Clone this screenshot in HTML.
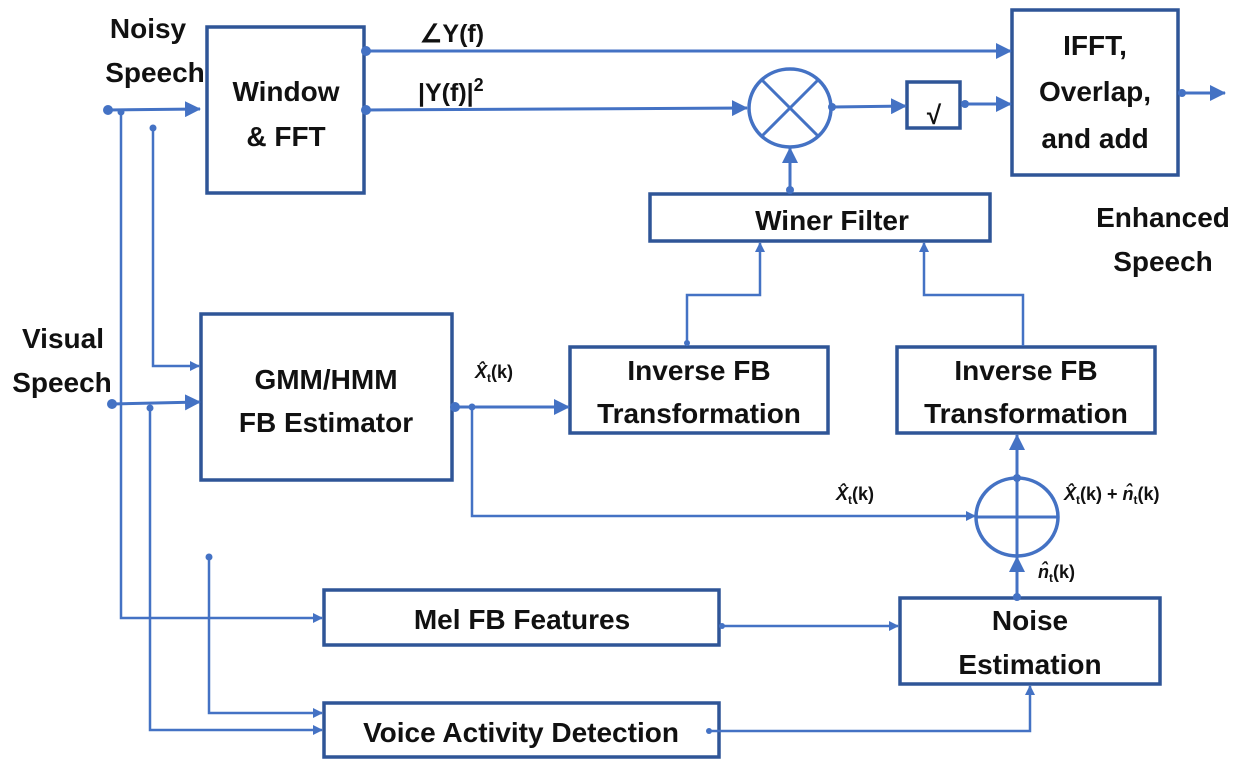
<!DOCTYPE html>
<html><head><meta charset="utf-8"><style>
html,body{margin:0;padding:0;background:#fff;}
svg{display:block;}
text{font-family:"Liberation Sans",sans-serif;font-weight:bold;fill:#111;}
</style></head><body>
<svg width="1250" height="771" viewBox="0 0 1250 771" xmlns="http://www.w3.org/2000/svg">
<defs>
<marker id="a" markerWidth="10" markerHeight="10" refX="9" refY="5" orient="auto" markerUnits="userSpaceOnUse" viewBox="0 0 10 10"><path d="M0,0 L10,5 L0,10 z" fill="#4472C4"/></marker>
<marker id="b" markerWidth="16" markerHeight="16" refX="15" refY="8" orient="auto" markerUnits="userSpaceOnUse" viewBox="0 0 16 16"><path d="M0,0 L16,8 L0,16 z" fill="#4472C4"/></marker>
</defs>
<g fill="none" stroke="#2F5597" stroke-width="3.5">
<rect x="207" y="27" width="157" height="166"/>
<rect x="201" y="314" width="251" height="166"/>
<rect x="570" y="347" width="258" height="86"/>
<rect x="897" y="347" width="258" height="86"/>
<rect x="650" y="194" width="340" height="47"/>
<rect x="1012" y="10" width="166" height="165"/>
<rect x="907" y="82" width="53" height="46"/>
<rect x="324" y="590" width="395" height="55"/>
<rect x="324" y="703" width="395" height="54"/>
<rect x="900" y="598" width="260" height="86"/>
</g>
<g fill="none" stroke="#4472C4" stroke-width="2.5">
<line x1="108" y1="110" x2="200" y2="109" stroke-width="3" marker-end="url(#b)"/>
<polyline points="121,112 121,618 322,618" marker-end="url(#a)"/>
<polyline points="153,128 153,366 199,366" marker-end="url(#a)"/>
<line x1="112" y1="404" x2="200" y2="402" stroke-width="3" marker-end="url(#b)"/>
<polyline points="150,408 150,730 322,730" marker-end="url(#a)"/>
<polyline points="209,557 209,713 322,713" marker-end="url(#a)"/>
<line x1="366" y1="51" x2="1011" y2="51" stroke-width="3" marker-end="url(#b)"/>
<line x1="366" y1="110" x2="747" y2="108" stroke-width="3" marker-end="url(#b)"/>
<ellipse cx="790" cy="108" rx="41" ry="39" stroke-width="3.5"/>
<line x1="762" y1="80" x2="818" y2="136" stroke-width="3"/>
<line x1="818" y1="80" x2="762" y2="136" stroke-width="3"/>
<line x1="832" y1="107" x2="906" y2="106" stroke-width="3" marker-end="url(#b)"/>
<line x1="964" y1="104" x2="1011" y2="104" stroke-width="3" marker-end="url(#b)"/>
<line x1="1182" y1="93" x2="1225" y2="93" stroke-width="3" marker-end="url(#b)"/>
<line x1="790" y1="190" x2="790" y2="148" stroke-width="3" marker-end="url(#b)"/>
<polyline points="687,346 687,295 760,295 760,243" marker-end="url(#a)"/>
<polyline points="1023,346 1023,295 924,295 924,243" marker-end="url(#a)"/>
<line x1="455" y1="407" x2="569" y2="407" stroke-width="3" marker-end="url(#b)"/>
<polyline points="472,407 472,516 975,516" marker-end="url(#a)"/>
<ellipse cx="1017" cy="517" rx="41" ry="39" stroke-width="3.5"/>
<line x1="976" y1="517" x2="1058" y2="517" stroke-width="3"/>
<line x1="1017" y1="597" x2="1017" y2="557" stroke-width="3" marker-end="url(#b)"/>
<line x1="1017" y1="478" x2="1017" y2="435" stroke-width="3" marker-end="url(#b)"/>
<line x1="1017" y1="478" x2="1017" y2="556" stroke-width="3"/>
<line x1="722" y1="626" x2="898" y2="626" marker-end="url(#a)"/>
<polyline points="709,731 1030,731 1030,686" marker-end="url(#a)"/>
</g>
<g fill="#4472C4">
<circle cx="108" cy="110" r="5"/><circle cx="121" cy="112" r="3.5"/><circle cx="153" cy="128" r="3.5"/>
<circle cx="112" cy="404" r="5"/><circle cx="150" cy="408" r="3.5"/><circle cx="209" cy="557" r="3.5"/>
<circle cx="366" cy="51" r="5"/><circle cx="366" cy="110" r="5"/><circle cx="832" cy="107" r="4"/>
<circle cx="965" cy="104" r="4"/><circle cx="1182" cy="93" r="4"/><circle cx="790" cy="190" r="4"/>
<circle cx="687" cy="343" r="3"/><circle cx="455" cy="407" r="5"/><circle cx="472" cy="407" r="3.5"/>
<circle cx="1017" cy="597" r="4"/><circle cx="1017" cy="478" r="4"/><circle cx="722" cy="626" r="3"/><circle cx="709" cy="731" r="3"/>
</g>
<g font-size="28" text-anchor="middle">
<text x="148" y="38">Noisy</text>
<text x="155" y="82">Speech</text>
<text x="63" y="348">Visual</text>
<text x="62" y="392">Speech</text>
<text x="286" y="101">Window</text>
<text x="286" y="146">&amp; FFT</text>
<text x="326" y="389">GMM/HMM</text>
<text x="326" y="432">FB Estimator</text>
<text x="699" y="380">Inverse FB</text>
<text x="699" y="423">Transformation</text>
<text x="1026" y="380">Inverse FB</text>
<text x="1026" y="423">Transformation</text>
<text x="832" y="230">Winer Filter</text>
<text x="1095" y="55">IFFT,</text>
<text x="1095" y="101">Overlap,</text>
<text x="1095" y="148">and add</text>
<text x="1163" y="227">Enhanced</text>
<text x="1163" y="271">Speech</text>
<text x="522" y="629">Mel FB Features</text>
<text x="521" y="742">Voice Activity Detection</text>
<text x="1030" y="630">Noise</text>
<text x="1030" y="674">Estimation</text>
<text x="934" y="124" font-size="26">√</text>
</g>
<g font-size="25">
<text x="420" y="42">∠Y(f)</text>
<text x="418" y="101">|Y(f)|<tspan font-size="18" dy="-10">2</tspan></text>
</g>
<g font-size="18">
<text x="475" y="378"><tspan font-style="italic">X̂</tspan><tspan font-size="12" dy="4">t</tspan><tspan dy="-4">(k)</tspan></text>
<text x="836" y="500"><tspan font-style="italic">X̂</tspan><tspan font-size="12" dy="4">t</tspan><tspan dy="-4">(k)</tspan></text>
<text x="1064" y="500"><tspan font-style="italic">X̂</tspan><tspan font-size="12" dy="4">t</tspan><tspan dy="-4">(k) + </tspan><tspan font-style="italic">n̂</tspan><tspan font-size="12" dy="4">t</tspan><tspan dy="-4">(k)</tspan></text>
<text x="1038" y="578"><tspan font-style="italic">n̂</tspan><tspan font-size="12" dy="4">t</tspan><tspan dy="-4">(k)</tspan></text>
</g>
</svg>
</body></html>
